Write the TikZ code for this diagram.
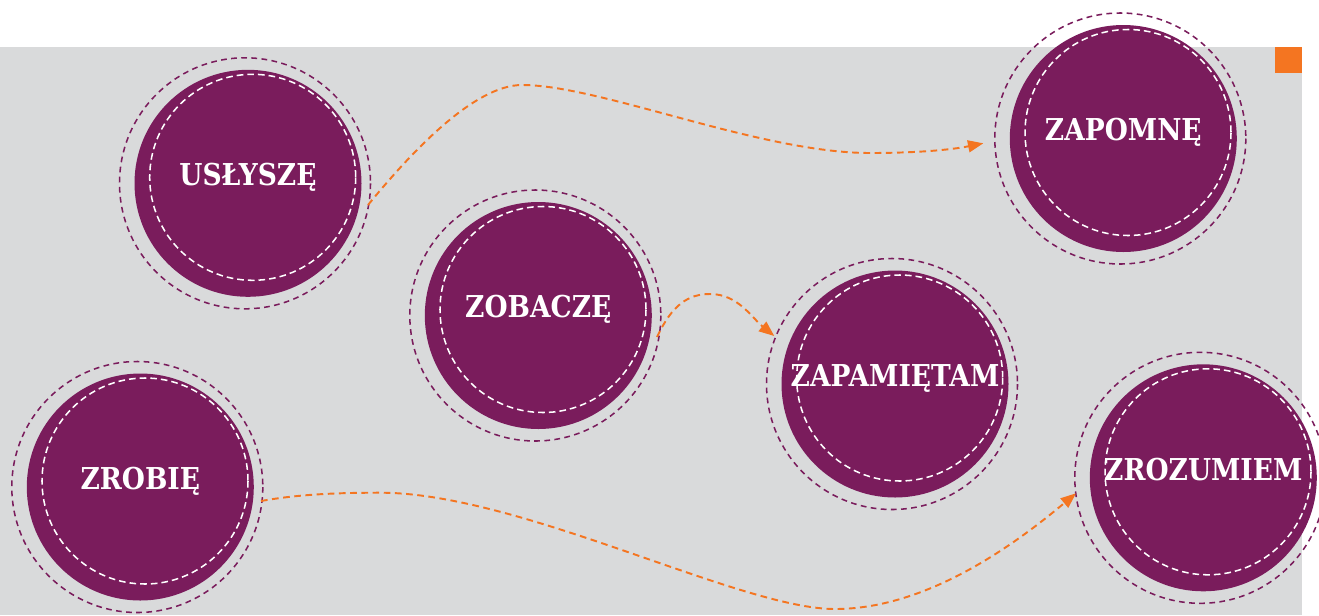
\documentclass[tikz,border=0pt]{standalone}
\usepackage{fontspec}
\usetikzlibrary{arrows.meta}
\newfontfamily\slabfont{DejaVu Serif}[FakeStretch=0.88]
\definecolor{plum}{HTML}{7A1C5C}
\definecolor{panel}{HTML}{D9DADB}
\definecolor{flame}{HTML}{F47521}

\begin{document}
\begin{tikzpicture}[x=0.75pt,y=-0.75pt,
  disc/.style={circle, fill=plum, minimum size=170.25pt, inner sep=0pt, outer sep=0pt},
  ring/.style={plum, line width=1.15pt, dash pattern=on 4.3pt off 3.3pt},
  seam/.style={white, line width=1.15pt, dash pattern=on 5pt off 3pt},
  word/.style={text=white, font=\slabfont\bfseries\fontsize{22.6pt}{24pt}\selectfont, anchor=base, inner sep=0pt},
  flow/.style={flame, line width=1.45pt, dash pattern=on 5pt off 3.4pt,
    -{Triangle[length=11.5pt,width=9pt]}}]

% page, grey panel and corner mark
\fill[white] (0,0) rectangle (1319,615);
\fill[panel] (0,47) rectangle (1302,615);
\fill[flame] (1275,47) rectangle (1302,73);
\useasboundingbox (0,0) rectangle (1319,615);

% discs
\node[disc] (usl)  at (248,183.3)    {};
\node[disc] (zapo) at (1123.3,138.5) {};
\node[disc] (zob)  at (538.3,315.5)  {};
\node[disc] (zapa) at (895,384)      {};
\node[disc] (zrob) at (140.3,487)    {};
\node[disc] (zroz) at (1203.3,477.8) {};

% outer dashed ring and inner stitched ring of every disc
\foreach \n in {usl,zapo,zob,zapa,zrob,zroz}{
  \draw[ring] ([shift={(-3,0)}]\n.center) circle[radius=125.5];
  \draw[seam] ([shift={(4.7,-6)}]\n.center) circle[radius=103];
}

% words
\node[word] (usl-t)  at ([shift={(0,2.4)}]usl.center)  {USŁYSZĘ};
\node[word] (zapo-t) at ([shift={(0,2.4)}]zapo.center) {ZAPOMNĘ};
\node[word] (zob-t)  at ([shift={(0,2.4)}]zob.center)  {ZOBACZĘ};
\node[word] (zapa-t) at ([shift={(0,2.4)}]zapa.center) {ZAPAMIĘTAM};
\node[word] (zrob-t) at ([shift={(0,2.4)}]zrob.center) {ZROBIĘ};
\node[word] (zroz-t) at ([shift={(0,2.4)}]zroz.center) {ZROZUMIEM};

% connector ends
\coordinate (s1) at ([shift={(120,21.7)}]usl.center);
\coordinate (e1) at ([shift={(-140,4.8)}]zapo.center);
\coordinate (s2) at ([shift={(118.7,21.5)}]zob.center);
\coordinate (e2) at ([shift={(-120.7,-48)}]zapa.center);
\coordinate (s3) at ([shift={(120.7,14)}]zrob.center);
\coordinate (e3) at ([shift={(-127.3,15.5)}]zroz.center);

% connectors
\draw[flow] (s1) .. controls (413,150) and (475,85) .. (522,85)
  .. controls (600,85) and (760,153) .. (870,153)
  .. controls (915,153) and (950,150) .. (e1);
\draw[flow] (s2) .. controls (672,305) and (688,294) .. (710,294)
  .. controls (738,294) and (752,318) .. (e2);
\draw[flow] (s3) .. controls (300,494) and (340,492.7) .. (380,492.7)
  .. controls (520,492.7) and (740,609) .. (835,609)
  .. controls (930,609) and (1020,540) .. (e3);
\end{tikzpicture}
\end{document}
